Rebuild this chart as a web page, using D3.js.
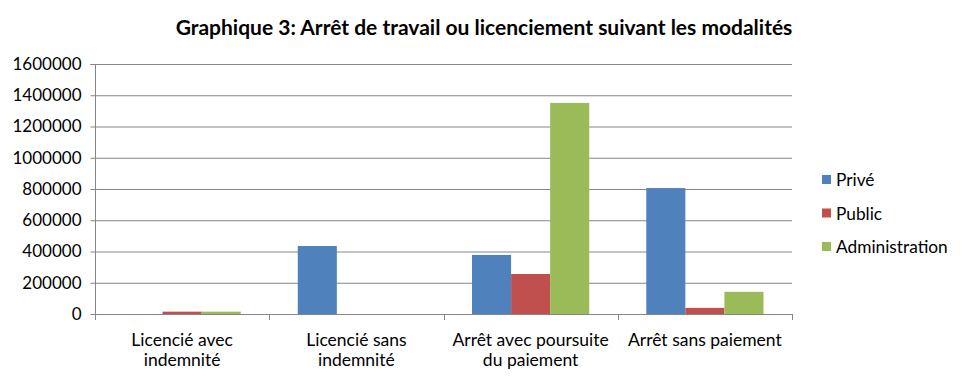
<!DOCTYPE html>
<html><head><meta charset="utf-8">
<script src="https://cdn.jsdelivr.net/npm/d3@7"></script>
<style>body{margin:0;background:#fff}svg{display:block}text{font-family:Lato,"Open Sans",sans-serif;fill:#000}</style>
</head><body><svg id="c" width="965" height="383"></svg>
<script>
const categories = [["Licencié avec","indemnité"],["Licencié sans","indemnité"],["Arrêt avec poursuite","du paiement"],["Arrêt sans paiement"]];
const seriesNames = ["Privé","Public","Administration"];
const prive = [0, 435000, 378000, 806000];
const publicV = [15000, 0, 256000, 39000];
const administration = [15000, 0, 1351000, 142000];
const yTicks = [0,200000,400000,600000,800000,1000000,1200000,1400000,1600000];
const colors = ["#4F81BD","#C0504D","#9BBB59"];
const seriesVals = [prive, publicV, administration];

const svg = d3.select("#c");
const L = 95, R = 792, T = 64, B = 314;
const x = d3.scaleBand().domain(d3.range(categories.length)).range([L,R]).paddingInner(0).paddingOuter(0);
const y = d3.scaleLinear().domain([0,1600000]).range([B,T]);
const inner = d3.scaleBand().domain(d3.range(3)).range([0,x.bandwidth()]).paddingInner(0).paddingOuter(0.73);

// gridlines
svg.append("g").selectAll("line").data(yTicks).join("line")
  .attr("x1",L).attr("x2",R).attr("y1",d=>y(d)+0.5).attr("y2",d=>y(d)+0.5)
  .attr("stroke","#868686").attr("stroke-width",1);

// bars
seriesVals.forEach((vals,si)=>{
  svg.append("g").selectAll("rect").data(vals).join("rect")
    .attr("x",(d,i)=>x(i)+inner(si)).attr("width",inner.bandwidth())
    .attr("y",d=>y(d)).attr("height",d=>B-y(d)).attr("fill",colors[si]);
});

// y axis
const ya = svg.append("g").attr("transform",`translate(${L+0.5},0)`)
  .call(d3.axisLeft(y).tickValues(yTicks).tickSize(5).tickPadding(9).tickFormat(d3.format("d")));
ya.select(".domain").attr("stroke","#868686").attr("d",`M-5,${T+0.5}H0V${B+0.5}`);
ya.selectAll(".tick line").attr("stroke","#868686");
ya.selectAll(".tick").attr("transform",d=>`translate(0,${y(d)+0.5})`);
ya.selectAll("text").style("font-size","17px").attr("font-family","Lato");

// x axis
const xg = svg.append("g");
xg.append("line").attr("x1",L).attr("x2",R).attr("y1",B+0.5).attr("y2",B+0.5).attr("stroke","#868686");
const bounds = d3.range(categories.length+1).map(i=> i<categories.length ? x(i) : R);
xg.selectAll("line.t").data(bounds).join("line").attr("class","t")
  .attr("x1",d=>Math.round(d)+0.5).attr("x2",d=>Math.round(d)+0.5).attr("y1",B).attr("y2",B+6).attr("stroke","#868686");
categories.forEach((lines,i)=>{
  const t = xg.append("text").attr("x",x(i)+x.bandwidth()/2).attr("y",346).attr("text-anchor","middle").style("font-size","17.5px");
  lines.forEach((s,j)=>t.append("tspan").attr("x",x(i)+x.bandwidth()/2).attr("dy",j?20:0).text(s));
});

// title
svg.append("text").attr("x",484).attr("y",35).attr("text-anchor","middle")
  .style("font-size","21px").style("font-weight","bold")
  .text("Graphique 3: Arrêt de travail ou licenciement suivant les modalités");

// legend
const lg = svg.append("g");
seriesNames.forEach((n,i)=>{
  const yy = 180 + i*33.5;
  lg.append("rect").attr("x",822).attr("y",yy-5).attr("width",9).attr("height",9).attr("fill",colors[i]);
  lg.append("text").attr("x",836).attr("y",yy+6).style("font-size","17.3px").text(n);
});
</script></body></html>
